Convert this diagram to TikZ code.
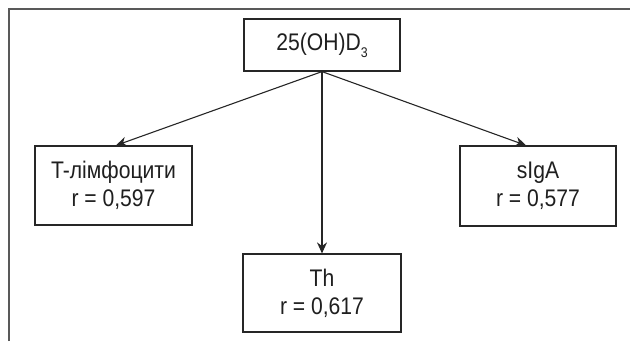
\documentclass[tikz,border=0pt]{standalone}
\usepackage{fontspec}
\setmainfont{Liberation Sans}[FakeStretch=0.88]
\usetikzlibrary{arrows.meta}
\begin{document}
\begin{tikzpicture}[x=1pt,y=-1pt,
  box/.style={draw=black!85, line width=1.2pt, fill=white, align=center, inner sep=0pt,
    font=\fontsize{24}{28}\selectfont, text=black!88},
  link/.style={draw=black!85, line width=1.1pt, -{Stealth[length=11pt,width=10pt]}},
  frame/.style={draw=black!65, line width=2pt}]
\useasboundingbox (0,0) rectangle (630,341);
\draw[frame] (9,341) -- (9,9) -- (630,9);
\node[box, minimum width=156pt, minimum height=52pt] (top) at (322,45) {25(OH)D\raisebox{-0.55ex}{\fontsize{14}{14}\selectfont 3}};
\node[box, minimum width=157pt, minimum height=79pt] (l) at (113.5,185.5) {T-лімфоцити\\r = 0,597};
\node[box, minimum width=156pt, minimum height=80pt] (r) at (538,186) {sIgA\\r = 0,577};
\node[box, minimum width=158pt, minimum height=78pt] (b) at (322,293) {Th\\r = 0,617};
\coordinate (lt) at ([xshift=2.5pt]l.north);
\coordinate (rt) at ([xshift=-12pt]r.north);
\draw[link] (top.south) -- (lt);
\draw[link] (top.south) -- (rt);
\draw[link] (top.south) -- (b.north);
\end{tikzpicture}
\end{document}
